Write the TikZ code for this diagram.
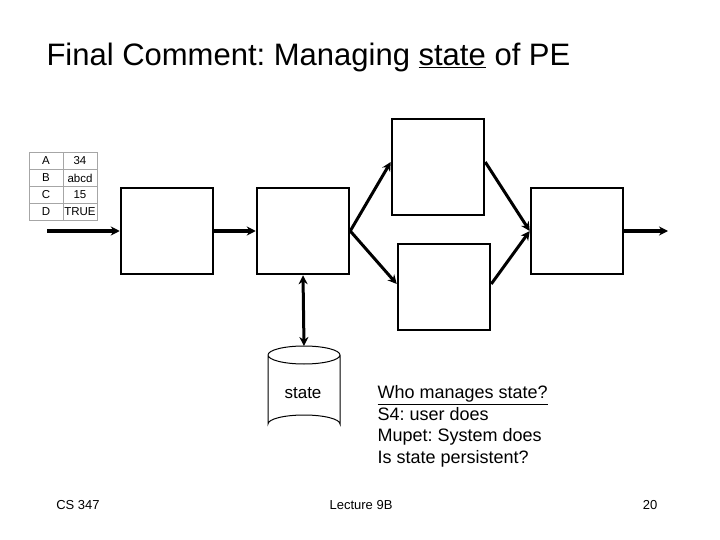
\documentclass[tikz,border=0pt]{standalone}
\usepackage{fontspec}
\setmainfont{Liberation Sans}
\frenchspacing
\usetikzlibrary{arrows.meta}
\tikzset{
	pe/.style={draw, line width=2.5pt, minimum width=92pt, minimum height=86pt, inner sep=0pt},
	flow/.style={line width=3pt, -{Stealth[length=9pt,width=9pt]}},
	cell/.style={draw=gray!70, minimum width=34pt, minimum height=17pt, inner sep=0pt, font=\fontsize{11.5}{13}\selectfont}
}
\begin{document}
\begin{tikzpicture}[x=1pt,y=-1pt]
	\useasboundingbox (0,0) rectangle (720,540);
	\node[anchor=west, font=\fontsize{31}{36}\selectfont] (title) at (43,57) {Final Comment: Managing \underline{state} of PE};

	% table of values
	\foreach \k/\v [count=\i] in {A/34, B/abcd, C/15, D/TRUE} {
		\node[cell] (k\i) at (46,{144+17*\i}) {\k};
		\node[cell] (v\i) at (80,{144+17*\i}) {\v};
	}

	\node[pe] (p1) at (167,231) {};
	\node[pe] (p2) at (303,231) {};
	\node[pe, minimum height=96pt] (top) at (438,167) {};
	\node[pe] (bot) at (444,287) {};
	\node[pe] (out) at (577,231) {};
	\coordinate (in) at (47,231);
	\coordinate (sink) at (668,231);

	\draw[flow] (in) -- (p1);
	\draw[flow] (p1) -- (p2);
	\draw[flow] (p2.east) -- (top.west |- 0,162);
	\draw[flow] (p2.east) -- (bot.west |- 0,284);
	\draw[flow] (top.east |- 0,162) -- (out.west);
	\draw[flow] (bot.east |- 0,284) -- (out.west);
	\draw[flow] (out) -- (sink);

	% state store
	\coordinate (dbtop) at (304,346);
	\draw[line width=1pt] (268,355) arc[start angle=180, end angle=-180, x radius=36pt, y radius=9pt]
		(268,355) -- (268,424) arc[start angle=180, end angle=360, x radius=36pt, y radius=-9pt] -- (340,355);
	\node[font=\fontsize{17}{20}\selectfont] (lbl) at (303,393) {state};
	\draw[line width=3pt, {Stealth[length=9pt,width=9pt]}-{Stealth[length=9pt,width=9pt]}] (p2.south) -- (dbtop);

	\node[anchor=north west, align=left, font=\fontsize{18}{21.5}\selectfont] (notes) at (374,382) {\underline{Who manages state?}\\S4: user does\\Mupet: System does\\Is state persistent?};

	\node[font=\fontsize{13}{15}\selectfont] (course) at (78,505) {CS 347};
	\node[font=\fontsize{13}{15}\selectfont] (lect) at (361,505) {Lecture 9B};
	\node[font=\fontsize{13}{15}\selectfont] (page) at (650,505) {20};
\end{tikzpicture}
\end{document}
